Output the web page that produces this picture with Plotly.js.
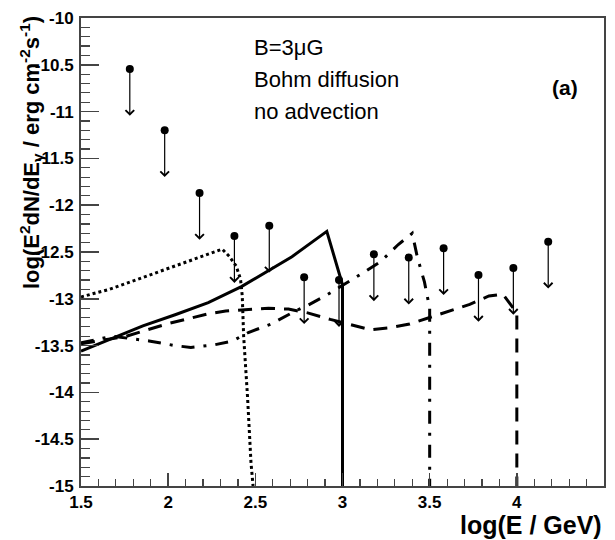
<!DOCTYPE html>
<html>
<head>
<meta charset="utf-8">
<script src="https://cdn.plot.ly/plotly-3.0.1.min.js"></script>
<style>
  html, body { margin: 0; padding: 0; background: #fff; }
  #chart { width: 615px; height: 540px; }
</style>
</head>
<body>
<div id="chart"></div>
<script>
// Upper limits: log energy and log flux of each limit point
const limE = [1.78, 1.98, 2.18, 2.38, 2.58, 2.78, 2.98, 3.18, 3.38, 3.58, 3.78, 3.98, 4.18];
const limF = [-10.545, -11.20, -11.87, -12.33, -12.22, -12.77, -12.80, -12.525, -12.56, -12.46, -12.745, -12.67, -12.39];

// Model spectra (log E, log E^2 dN/dE)
const solidE = [1.5, 1.70, 1.855, 2.04, 2.23, 2.42, 2.58, 2.71, 2.91, 2.99, 3.0, 3.0];
const solidF = [-13.56, -13.41, -13.29, -13.17, -13.04, -12.87, -12.69, -12.55, -12.28, -12.80, -12.85, -15.0];

const dottedE = [1.5, 1.66, 1.85, 2.04, 2.195, 2.31, 2.35, 2.39, 2.415, 2.425, 2.433, 2.455, 2.475, 2.487];
const dottedF = [-12.98, -12.90, -12.775, -12.65, -12.545, -12.47, -12.545, -12.65, -12.79, -12.97, -13.40, -14.04, -14.75, -15.0];

const dashedE = [1.5, 1.76, 1.99, 2.12, 2.23, 2.33, 2.46, 2.575, 2.69, 2.80, 2.93, 3.04, 3.16, 3.27, 3.385, 3.50, 3.61, 3.73, 3.84, 3.92, 4.0, 4.0];
const dashedF = [-13.48, -13.40, -13.27, -13.21, -13.16, -13.13, -13.11, -13.10, -13.11, -13.15, -13.22, -13.27, -13.33, -13.31, -13.27, -13.20, -13.13, -13.06, -12.97, -12.95, -13.15, -15.0];

const dashDotE = [1.5, 1.68, 1.89, 2.04, 2.13, 2.27, 2.37, 2.46, 2.59, 2.73, 2.80, 2.90, 3.12, 3.22, 3.32, 3.40, 3.43, 3.47, 3.50, 3.50];
const dashDotF = [-13.47, -13.40, -13.45, -13.50, -13.52, -13.49, -13.45, -13.36, -13.27, -13.13, -13.07, -12.97, -12.72, -12.60, -12.42, -12.30, -12.56, -12.82, -13.10, -15.0];

// Axis ticks
const xTickVals = [1.5, 2, 2.5, 3, 3.5, 4, 4.5];
const xTickText = ['1.5', '2', '2.5', '3', '3.5', '4', '4.5'];
const yTickVals = [-10, -10.5, -11, -11.5, -12, -12.5, -13, -13.5, -14, -14.5, -15];
const yTickText = ['-10', '-10.5', '-11', '-11.5', '-12', '-12.5', '-13', '-13.5', '-14', '-14.5', '-15'];

const arrowLen = 0.5;   // length of the upper-limit arrows, in dex
const FONT = 'Liberation Sans, Arial, Helvetica, sans-serif';

const traces = [
  { x: dottedE, y: dottedF, mode: 'lines', line: { color: '#000', width: 3, dash: '3px,3px' }, hoverinfo: 'skip' },
  { x: dashedE, y: dashedF, mode: 'lines', line: { color: '#000', width: 3, dash: '14px,9px' }, hoverinfo: 'skip' },
  { x: dashDotE, y: dashDotF, mode: 'lines', line: { color: '#000', width: 3, dash: '13px,9px,3px,9px' }, hoverinfo: 'skip' },
  { x: solidE, y: solidF, mode: 'lines', line: { color: '#000', width: 3 }, hoverinfo: 'skip' },
  { x: limE, y: limF, mode: 'markers', marker: { color: '#000', size: 8, symbol: 'circle' } }
];

const annotations = limE.map((e, i) => ({
  x: e, y: limF[i] - arrowLen, xref: 'x', yref: 'y',
  ax: e, ay: limF[i], axref: 'x', ayref: 'y',
  text: '', showarrow: true, arrowhead: 4, arrowsize: 1.4, arrowwidth: 1.2, arrowcolor: '#000'
}));

annotations.push(
  { xref: 'paper', yref: 'paper', x: 0.327, y: 0.937, xanchor: 'left', yanchor: 'middle', showarrow: false,
    text: 'B=3μG', font: { family: FONT, size: 22, color: '#000' } },
  { xref: 'paper', yref: 'paper', x: 0.327, y: 0.868, xanchor: 'left', yanchor: 'middle', showarrow: false,
    text: 'Bohm diffusion', font: { family: FONT, size: 22, color: '#000' } },
  { xref: 'paper', yref: 'paper', x: 0.327, y: 0.800, xanchor: 'left', yanchor: 'middle', showarrow: false,
    text: 'no advection', font: { family: FONT, size: 22, color: '#000' } },
  { xref: 'paper', yref: 'paper', x: 0.925, y: 0.852, xanchor: 'center', yanchor: 'middle', showarrow: false,
    text: '<b>(a)</b>', font: { family: FONT, size: 21, color: '#000' } },
  { xref: 'paper', yref: 'paper', x: 1.0, y: -0.084, xanchor: 'right', yanchor: 'middle', showarrow: false,
    text: '<b>log(E / GeV)</b>', font: { family: FONT, size: 25, color: '#000' } },
  { xref: 'paper', yref: 'paper', x: -0.095, y: 1.008, xanchor: 'center', yanchor: 'top', showarrow: false, textangle: -90,
    text: '<b>log(E<sup>2</sup>dN/dE<sub>γ</sub> / erg cm<sup>-2</sup>s<sup>-1</sup>)</b>',
    font: { family: FONT, size: 22, color: '#000' } }
);

const axisCommon = {
  showgrid: false, zeroline: false, showline: true, mirror: true,
  linecolor: '#444', linewidth: 2, ticks: 'inside', tickcolor: '#444', tickwidth: 1.5,
  tickmode: 'array', tickfont: { family: FONT, size: 17, color: '#000', weight: 'bold' }
};

const layout = {
  width: 615, height: 540,
  margin: { l: 81, r: 11, t: 18, b: 54 },
  paper_bgcolor: '#fff', plot_bgcolor: '#fff',
  showlegend: false,
  xaxis: Object.assign({}, axisCommon, {
    range: [1.5, 4.5], tickvals: xTickVals, ticktext: xTickText, ticklen: 13,
    minor: { dtick: 0.1, tick0: 1.5, ticklen: 7, tickcolor: '#444', tickwidth: 1.2, ticks: 'inside' }
  }),
  yaxis: Object.assign({}, axisCommon, {
    range: [-15, -10], tickvals: yTickVals, ticktext: yTickText, ticklen: 18,
    ticklabelstandoff: 2,
    minor: { dtick: 0.1, tick0: -15, ticklen: 9, tickcolor: '#444', tickwidth: 1.2, ticks: 'inside' }
  }),
  annotations: annotations
};

Plotly.newPlot('chart', traces, layout, { staticPlot: true, displayModeBar: false });
</script>
</body>
</html>
